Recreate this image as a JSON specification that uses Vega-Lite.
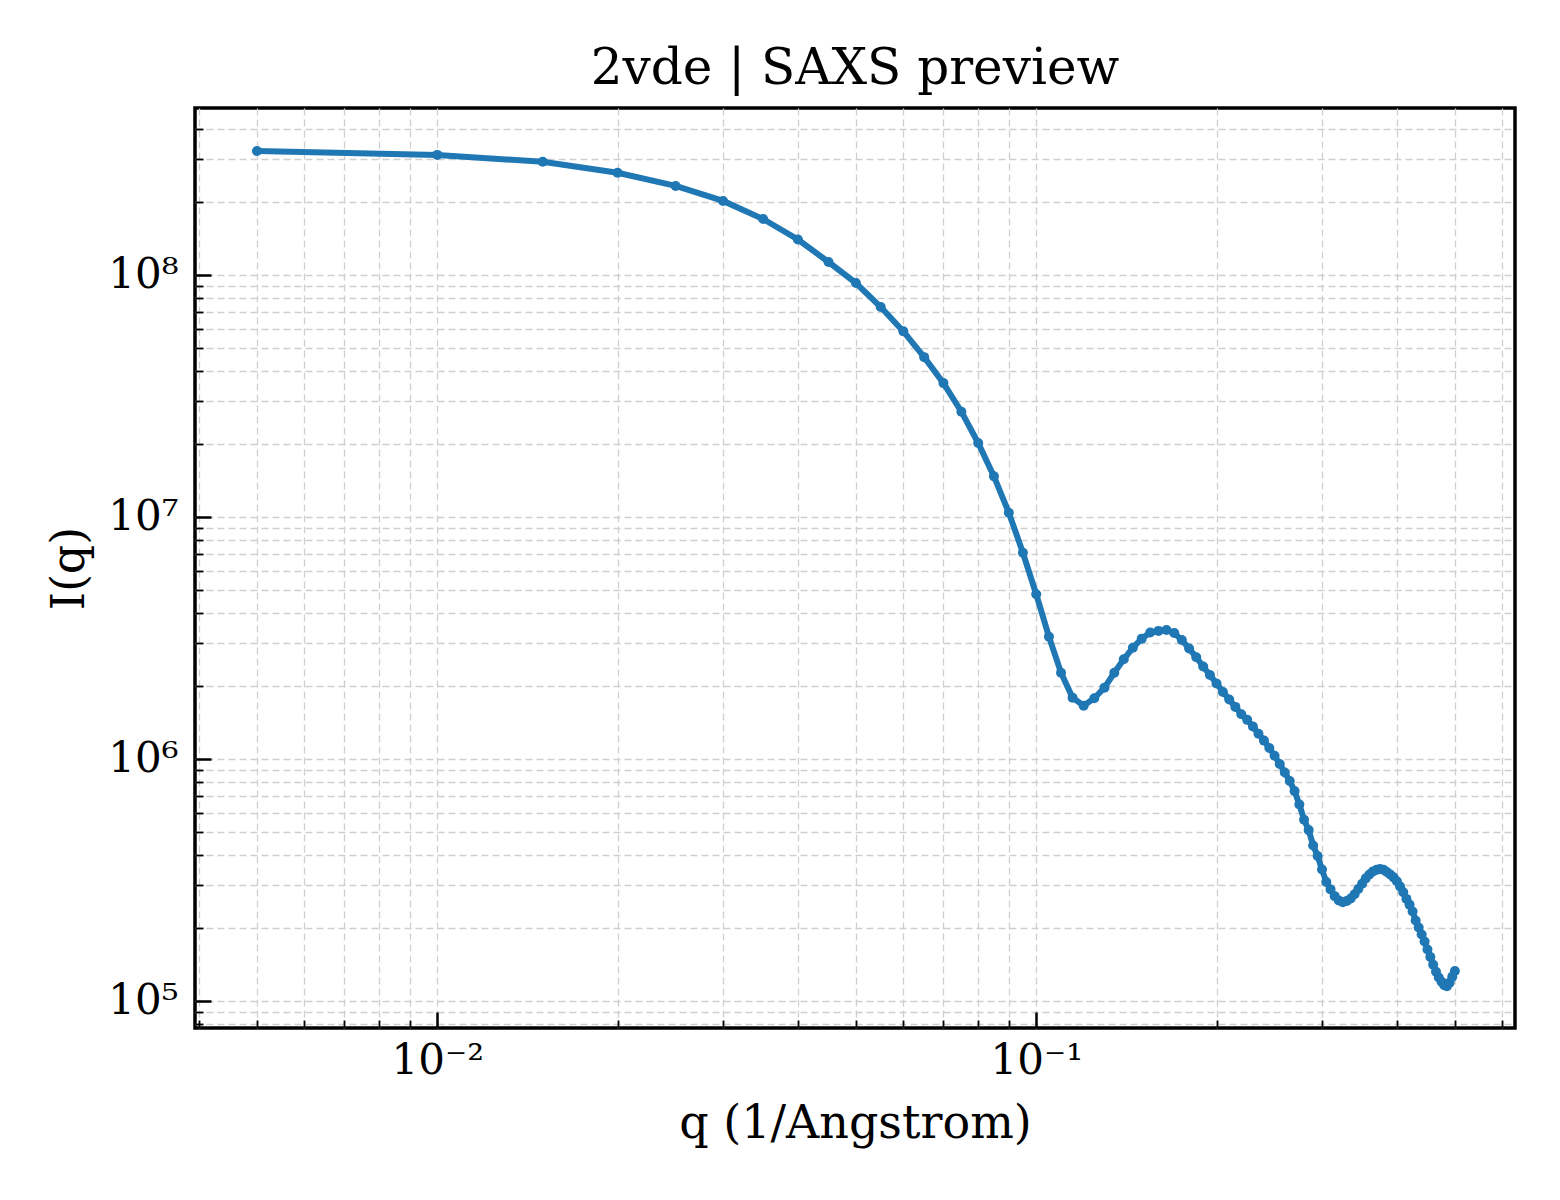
{
  "$schema": "https://vega.github.io/schema/vega-lite/v6.json",
  "autosize": {"type": "none"},
  "padding": {"left": 195, "top": 108, "right": 45, "bottom": 172},
  "width": 1320,
  "height": 920,
  "background": "white",
  "title": {
    "text": "2vde | SAXS preview",
    "fontSize": 50,
    "font": "DejaVu Serif",
    "fontWeight": "normal",
    "color": "black",
    "anchor": "middle",
    "offset": 14
  },
  "data": {
    "values": [
      {"q": 0.005, "I": 3.25e8}, {"q": 0.01, "I": 3.13e8}, {"q": 0.015, "I": 2.93e8}, {"q": 0.02, "I": 2.64e8},
      {"q": 0.025, "I": 2.33e8}, {"q": 0.03, "I": 2.02e8}, {"q": 0.035, "I": 1.70e8}, {"q": 0.04, "I": 1.40e8},
      {"q": 0.045, "I": 1.13e8}, {"q": 0.05, "I": 9.25e7}, {"q": 0.055, "I": 7.36e7}, {"q": 0.06, "I": 5.84e7},
      {"q": 0.065, "I": 4.57e7}, {"q": 0.07, "I": 3.57e7}, {"q": 0.075, "I": 2.72e7}, {"q": 0.08, "I": 2.02e7},
      {"q": 0.085, "I": 1.47e7}, {"q": 0.09, "I": 1.04e7}, {"q": 0.095, "I": 7.11e6}, {"q": 0.1, "I": 4.79e6},
      {"q": 0.105, "I": 3.20e6}, {"q": 0.11, "I": 2.27e6}, {"q": 0.115, "I": 1.79e6}, {"q": 0.12, "I": 1.66e6},
      {"q": 0.125, "I": 1.78e6}, {"q": 0.13, "I": 1.97e6}, {"q": 0.135, "I": 2.27e6}, {"q": 0.14, "I": 2.58e6},
      {"q": 0.145, "I": 2.88e6}, {"q": 0.15, "I": 3.14e6}, {"q": 0.155, "I": 3.33e6}, {"q": 0.16, "I": 3.38e6},
      {"q": 0.165, "I": 3.41e6}, {"q": 0.17, "I": 3.31e6}, {"q": 0.175, "I": 3.10e6}, {"q": 0.18, "I": 2.86e6},
      {"q": 0.185, "I": 2.63e6}, {"q": 0.19, "I": 2.41e6}, {"q": 0.195, "I": 2.22e6}, {"q": 0.2, "I": 2.05e6},
      {"q": 0.205, "I": 1.89e6}, {"q": 0.21, "I": 1.76e6}, {"q": 0.215, "I": 1.64e6}, {"q": 0.22, "I": 1.53e6},
      {"q": 0.225, "I": 1.45e6}, {"q": 0.23, "I": 1.36e6}, {"q": 0.235, "I": 1.27e6}, {"q": 0.24, "I": 1.19e6},
      {"q": 0.245, "I": 1.11e6}, {"q": 0.25, "I": 1.03e6}, {"q": 0.255, "I": 9.53e5}, {"q": 0.26, "I": 8.79e5},
      {"q": 0.265, "I": 8.11e5}, {"q": 0.27, "I": 7.36e5}, {"q": 0.275, "I": 6.48e5}, {"q": 0.28, "I": 5.61e5},
      {"q": 0.285, "I": 5.08e5}, {"q": 0.29, "I": 4.39e5}, {"q": 0.295, "I": 3.97e5}, {"q": 0.3, "I": 3.49e5},
      {"q": 0.305, "I": 3.10e5}, {"q": 0.31, "I": 2.89e5}, {"q": 0.315, "I": 2.71e5}, {"q": 0.32, "I": 2.60e5},
      {"q": 0.325, "I": 2.56e5}, {"q": 0.33, "I": 2.59e5}, {"q": 0.335, "I": 2.65e5}, {"q": 0.34, "I": 2.76e5},
      {"q": 0.345, "I": 2.90e5}, {"q": 0.35, "I": 3.05e5}, {"q": 0.355, "I": 3.21e5}, {"q": 0.36, "I": 3.33e5},
      {"q": 0.365, "I": 3.43e5}, {"q": 0.37, "I": 3.48e5}, {"q": 0.375, "I": 3.51e5}, {"q": 0.38, "I": 3.48e5},
      {"q": 0.385, "I": 3.41e5}, {"q": 0.39, "I": 3.33e5}, {"q": 0.395, "I": 3.24e5}, {"q": 0.4, "I": 3.12e5},
      {"q": 0.405, "I": 2.97e5}, {"q": 0.41, "I": 2.81e5}, {"q": 0.415, "I": 2.64e5}, {"q": 0.42, "I": 2.50e5},
      {"q": 0.425, "I": 2.34e5}, {"q": 0.43, "I": 2.15e5}, {"q": 0.435, "I": 2.01e5}, {"q": 0.44, "I": 1.88e5},
      {"q": 0.445, "I": 1.76e5}, {"q": 0.45, "I": 1.63e5}, {"q": 0.455, "I": 1.52e5}, {"q": 0.46, "I": 1.41e5},
      {"q": 0.465, "I": 1.32e5}, {"q": 0.47, "I": 1.25e5}, {"q": 0.475, "I": 1.20e5}, {"q": 0.48, "I": 1.16e5},
      {"q": 0.485, "I": 1.15e5}, {"q": 0.49, "I": 1.19e5}, {"q": 0.495, "I": 1.26e5}, {"q": 0.5, "I": 1.33e5}
    ]
  },
  "encoding": {
    "x": {
      "field": "q",
      "type": "quantitative",
      "scale": {"type": "log", "domain": [0.00394, 0.63], "nice": false},
      "axis": {
        "title": "q (1/Angstrom)",
        "titleFontSize": 46,
        "titlePadding": 12,
        "values": [0.004, 0.005, 0.006, 0.007, 0.008, 0.009, 0.01, 0.02, 0.03, 0.04, 0.05, 0.06, 0.07, 0.08, 0.09, 0.1, 0.2, 0.3, 0.4, 0.5, 0.6],
        "labelExpr": "datum.value == 0.01 ? '10⁻²' : datum.value == 0.1 ? '10⁻¹' : ''",
        "labelPadding": 28,
        "tickSize": {"condition": {"test": "datum.value == 0.01 || datum.value == 0.1", "value": -16}, "value": -8},
        "tickWidth": {"condition": {"test": "datum.value == 0.01 || datum.value == 0.1", "value": 2.5}, "value": 1.8}
      }
    },
    "y": {
      "field": "I",
      "type": "quantitative",
      "scale": {"type": "log", "domain": [77300, 489000000], "nice": false},
      "axis": {
        "title": "I(q)",
        "titleFontSize": 46,
        "titlePadding": 14,
        "values": [80000, 90000, 100000, 200000, 300000, 400000, 500000, 600000, 700000, 800000, 900000,
                   1000000, 2000000, 3000000, 4000000, 5000000, 6000000, 7000000, 8000000, 9000000,
                   10000000, 20000000, 30000000, 40000000, 50000000, 60000000, 70000000, 80000000, 90000000,
                   100000000, 200000000, 300000000, 400000000],
        "labelExpr": "datum.value == 100000 ? '10⁵' : datum.value == 1000000 ? '10⁶' : datum.value == 10000000 ? '10⁷' : datum.value == 100000000 ? '10⁸' : ''",
        "labelPadding": 33,
        "tickSize": {"condition": {"test": "indexof([100000, 1000000, 10000000, 100000000], datum.value) >= 0", "value": -16}, "value": -8},
        "tickWidth": {"condition": {"test": "indexof([100000, 1000000, 10000000, 100000000], datum.value) >= 0", "value": 2.5}, "value": 1.8}
      }
    }
  },
  "layer": [
    {"mark": {"type": "line", "color": "#1f77b4", "strokeWidth": 6}},
    {"mark": {"type": "point", "filled": true, "opacity": 1, "color": "#1f77b4", "size": 100}}
  ],
  "config": {
    "font": "DejaVu Serif",
    "view": {"stroke": "black", "strokeWidth": 3.5},
    "axis": {
      "domain": false,
      "grid": true,
      "gridColor": "#cfcfcf",
      "gridDash": [7, 4],
      "gridWidth": 1.3,
      "tickColor": "black",
      "labelFont": "DejaVu Serif",
      "labelFontSize": 42,
      "labelColor": "black",
      "labelOverlap": false,
      "labelFlush": false,
      "labelBound": false,
      "titleFont": "DejaVu Serif",
      "titleFontWeight": "normal",
      "titleColor": "black"
    }
  }
}
